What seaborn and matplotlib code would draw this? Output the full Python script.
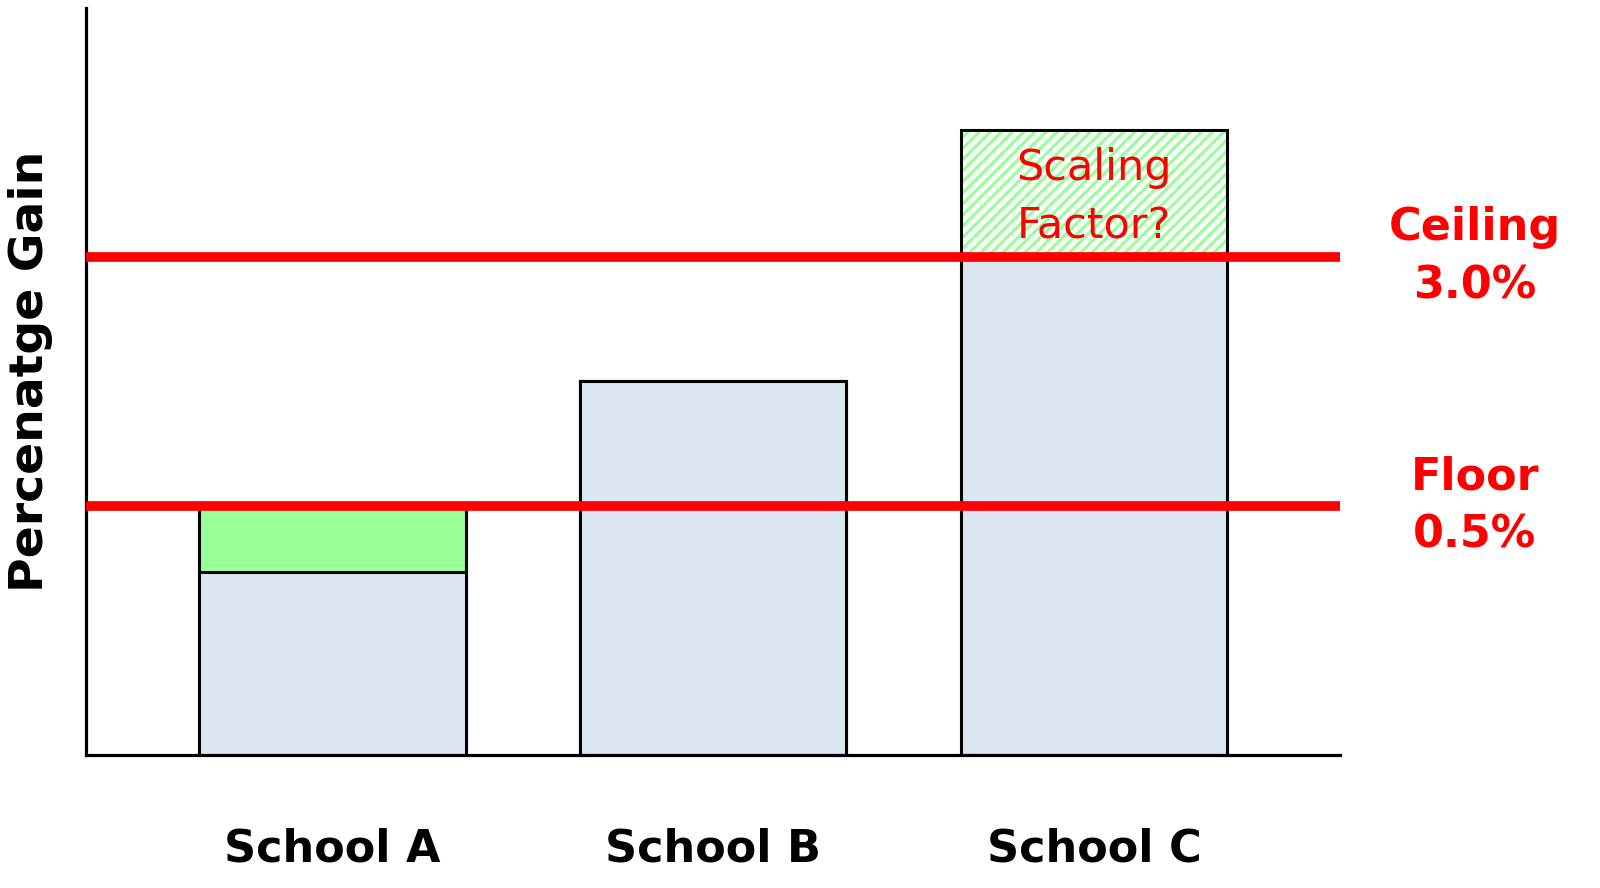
import seaborn as sns
import matplotlib.pyplot as plt

# schematic chart, y axis has no real scale
schools = ['School A', 'School B', 'School C']
gain_top = [1.0, 1.5, 2.51]    # top of each bar (green part / hatched part)
gain_base = [0.735, 1.5, 2.0]  # blue part
floor_val = 1.0
ceiling_val = 2.0
floor_label = 'Floor\n0.5%'
ceiling_label = 'Ceiling\n3.0%'

blue = '#DCE6F0'
green = '#99FF99'

sns.set_style('white')
plt.rcParams['font.family'] = ['DejaVu Sans']
plt.rcParams['hatch.linewidth'] = 2.3

fig = plt.figure(figsize=(16, 8.88), dpi=100)
ax = fig.add_axes([0.054, 0.15, 0.7835, 0.841])

# top segments
sns.barplot(x=schools, y=gain_top, hue=schools, palette=[green, blue, 'white'],
            saturation=1, legend=False, width=0.7, edgecolor='black',
            linewidth=2.2, ax=ax)
hp = ax.patches[2]
hp.set_hatch('///')
hp.set_edgecolor(green)
hp.set_linewidth(0)
# outline of top segments
sns.barplot(x=schools, y=gain_top, width=0.7, fill=False, edgecolor='black',
            linewidth=2.2, ax=ax)
# base segments
sns.barplot(x=schools, y=gain_base, color=blue, saturation=1, width=0.7,
            edgecolor='black', linewidth=2.2, ax=ax)

ax.set_xlim(-0.646, 2.646)
ax.set_ylim(0, 3.0)

ax.hlines([floor_val, ceiling_val], -0.646, 2.646, color='red', lw=7, zorder=5)

ax.text(3.0, ceiling_val, ceiling_label, color='red', fontsize=32, fontweight='bold',
        ha='center', va='center', linespacing=1.45, clip_on=False)
ax.text(3.0, floor_val, floor_label, color='red', fontsize=32, fontweight='bold',
        ha='center', va='center', linespacing=1.45, clip_on=False)
ax.text(2, 2.24, 'Scaling\nFactor?', color='red',
        fontsize=31, ha='center', va='center', linespacing=1.5, zorder=6)

ax.set_yticks([])
ax.tick_params(axis='x', length=0, pad=52, labelsize=32, labelcolor='black')
for t in ax.get_xticklabels():
    t.set_fontweight('bold')
ax.set_ylabel('Percenatge Gain', fontsize=34, fontweight='bold', color='black')
ax.yaxis.set_label_coords(-0.027, 0.513)

sns.despine(ax=ax)
for s in ['left', 'bottom']:
    ax.spines[s].set_linewidth(2.3)
    ax.spines[s].set_color('black')

fig.savefig('out.png', dpi=100)
